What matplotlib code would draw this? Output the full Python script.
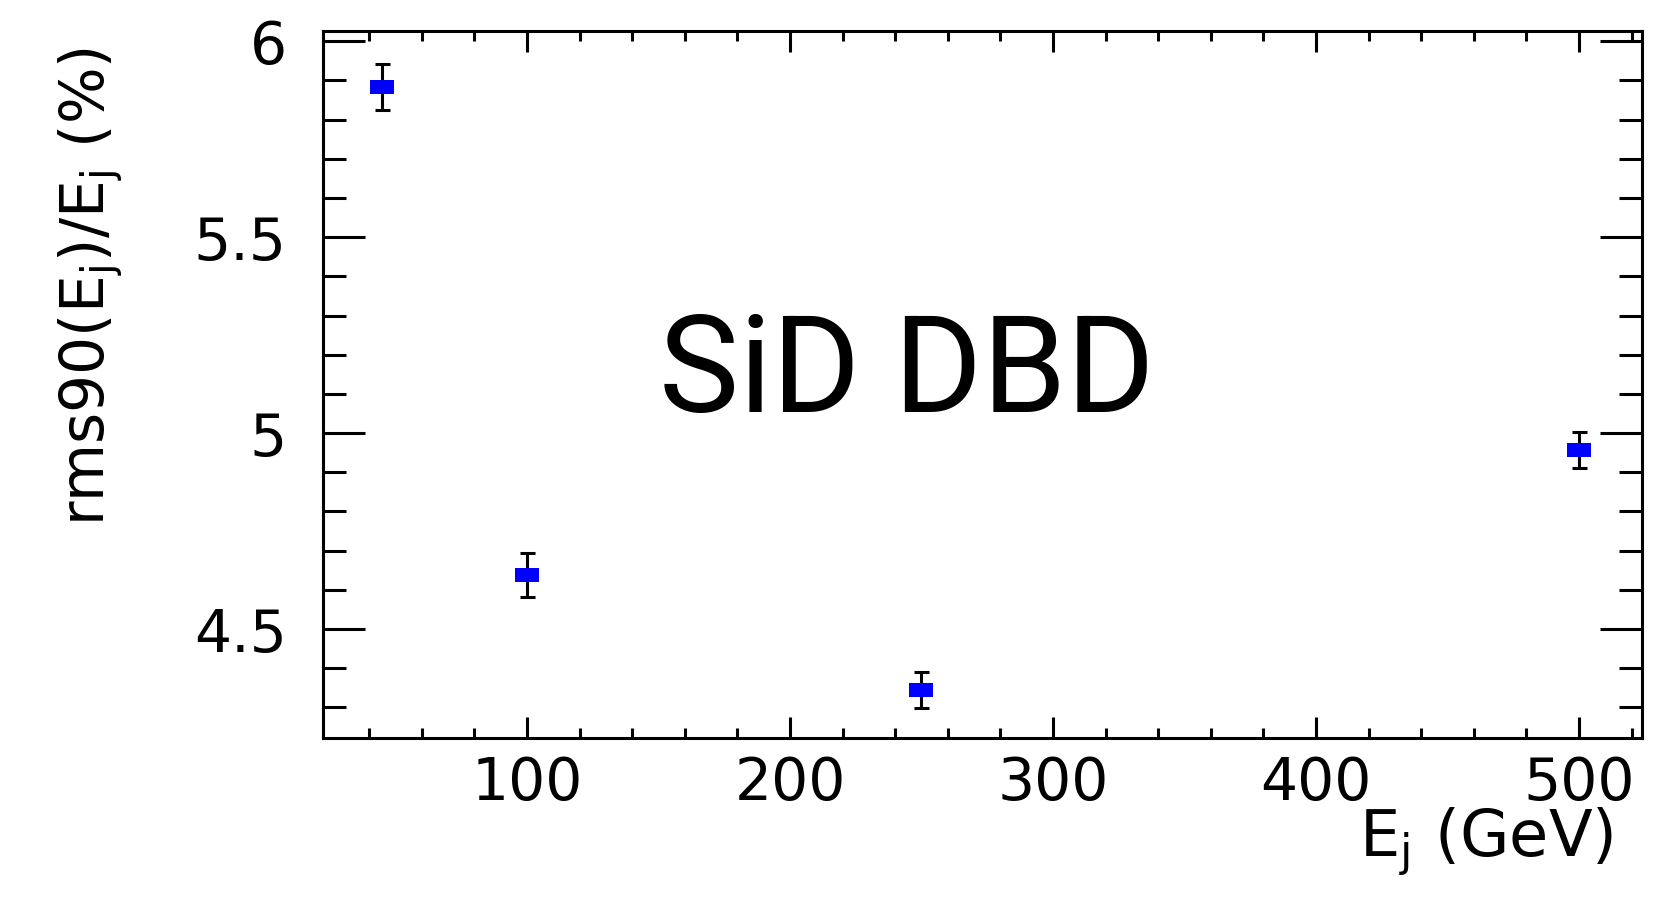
import matplotlib
matplotlib.use('Agg')
import matplotlib.pyplot as plt
from matplotlib.ticker import MultipleLocator, FuncFormatter

# Dane: rozdzielczosc energii jetow
energy = [45, 100, 250, 500]
rms90 = [5.883, 4.638, 4.344, 4.957]
rms90_err = [0.058, 0.055, 0.046, 0.045]

x_major = [100, 200, 300, 400, 500]
y_major = [4.5, 5.0, 5.5, 6.0]

fig = plt.figure(figsize=(16.63, 9.09), dpi=100)
ax = fig.add_axes([0.1942, 0.1881, 0.7932, 0.7778])

rect = [(-1.6, -1), (1.6, -1), (1.6, 1), (-1.6, 1), (-1.6, -1)]
ax.errorbar(energy, rms90, yerr=rms90_err, fmt='none', ecolor='black',
            elinewidth=2.2, capsize=5.4, capthick=2.2, zorder=2)
ax.plot(energy, rms90, linestyle='none', marker=rect, markersize=17,
        color='#0000ff', markeredgewidth=0, zorder=3)

ax.set_xlim(22.4, 524)
ax.set_ylim(4.222, 6.026)

ax.set_xticks(x_major)
ax.set_yticks(y_major)
ax.xaxis.set_minor_locator(MultipleLocator(20))
ax.yaxis.set_minor_locator(MultipleLocator(0.1))
ax.yaxis.set_major_formatter(FuncFormatter(lambda v, p: '%g' % v))

ax.tick_params(axis='both', which='both', direction='in', top=True, right=True,
               width=2.2, labelsize=42)
ax.tick_params(axis='x', which='major', length=15, pad=12)
ax.tick_params(axis='x', which='minor', length=7.2)
ax.tick_params(axis='y', which='major', length=30, pad=26)
ax.tick_params(axis='y', which='minor', length=16.5)
for lab in ax.get_xticklabels() + ax.get_yticklabels():
    lab.set_family('DejaVu Sans')

for s in ax.spines.values():
    s.set_linewidth(2.2)

ax.set_xlabel('E$_{\\rm j}$ (GeV)', fontsize=46, family='DejaVu Sans', loc='right')
ax.xaxis.set_label_coords(0.978, -0.095)
ax.xaxis.label.set_va('top')

ax.set_ylabel('rms90(E$_{\\rm j}$)/E$_{\\rm j}$ (%)', fontsize=43,
              family='DejaVu Sans', loc='top')
ax.yaxis.set_label_coords(-0.15, 0.978)

ax.text(0.443, 0.461, 'SiD DBD', transform=ax.transAxes, ha='center',
        va='baseline', fontsize=97, family='Roboto')

fig.savefig('out.png', dpi=100)
